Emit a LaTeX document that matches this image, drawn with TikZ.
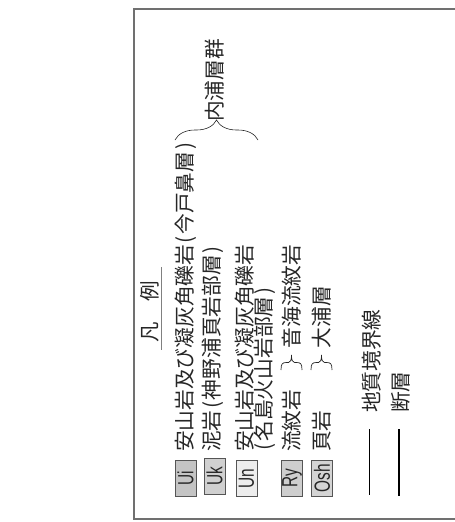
\documentclass[tikz,border=0pt]{standalone}
\usepackage{fontspec}
\usepackage{graphicx}
\newfontfamily\jp{Noto Sans CJK JP}
\setsansfont{Liberation Sans}
\usetikzlibrary{decorations.pathreplacing}
\newcommand\lpar{\makebox[0.5em]{(}}
\newcommand\rpar{\makebox[0.5em]{)}}
\definecolor{framegray}{HTML}{707070}
\definecolor{boxedge}{HTML}{555555}
\definecolor{fillUi}{HTML}{C4C4C4}
\definecolor{fillUk}{HTML}{D0D0D0}
\definecolor{fillUn}{HTML}{EDEDED}
\definecolor{fillRy}{HTML}{CECECE}
\definecolor{fillOsh}{HTML}{D4D4D4}
\definecolor{inkjp}{HTML}{262626}
\begin{document}
\begin{tikzpicture}[x=1pt,y=-1pt,
  jt/.style={rotate=90, anchor=west, inner sep=0pt, text=inkjp,
    font=\jp\fontsize{20.7}{24}\selectfont, text height=18.2pt, text depth=2.5pt},
  keybox/.style={rotate=90, draw=boxedge, line width=0.8pt, minimum width=36pt,
    minimum height=21pt, inner sep=0pt, text=black!85,
    font=\sffamily\fontsize{22}{22}\selectfont},
  brc/.style={draw=inkjp, line width=0.6pt, decorate},
  smallbrace/.style={draw=inkjp, line width=0.7pt},
  framepath/.style={draw=framegray, line width=1.2pt},
  rule/.style={draw=black!50, line width=0.7pt}]
\useasboundingbox (0,0) rectangle (455,522);
% frame
\coordinate (f1) at (456,9);
\coordinate (f2) at (134,9);
\coordinate (f3) at (134,519);
\coordinate (f4) at (456,519);
\draw[framepath] (f1) -- (f2) -- (f3) -- (f4);
% title
\node[rotate=90, inner sep=0pt, text=inkjp, font=\jp\fontsize{20.5}{24}\selectfont] (title) at (150,311.5) {凡\hspace{1em}例};
\coordinate (ul1) at (161,267);
\coordinate (ul2) at (161,350);
\draw[rule] (ul1) -- (ul2);
% key boxes
\node[keybox, fill=fillUi] (bUi) at (185.5,478) {\scalebox{0.7}[1]{Ui}};
\node[keybox, fill=fillUk] (bUk) at (214.5,476.5) {\scalebox{0.7}[1]{Uk}};
\node[keybox, fill=fillUn] (bUn) at (246.5,478.5) {\scalebox{0.7}[1]{Un}};
\node[keybox, fill=fillRy] (bRy) at (292,478) {\scalebox{0.7}[1]{Ry}};
\node[keybox, fill=fillOsh] (bOsh) at (322,478) {\scalebox{0.7}[1]{Osh}};
% texts
\node[jt] (t1) at (184.5,452) {安山岩及び凝灰角礫岩\lpar 今戸鼻層\rpar};
\node[jt] (t2) at (212,452) {泥岩\lpar 神野浦頁岩部層\rpar};
\node[jt] (t3) at (245,452) {安山岩及び凝灰角礫岩};
\node[jt] (t4) at (264,452) {\lpar 名島火山岩部層\rpar};
\node[jt] (t5) at (292,452) {流紋岩};
\node[jt] (t5b) at (292,348.5) {音海流紋岩};
\node[jt] (t6) at (322,452) {頁岩};
\node[jt] (t6b) at (322,348.5) {大浦層};
\node[jt] (grp) at (215,122) {内浦層群};
\node[jt] (g1) at (372,413) {地質境界線};
\node[jt] (g2) at (401,413) {断層};
% large brace
\coordinate (bb1) at (175,140);
\coordinate (bb2) at (258,140);
\draw[brc, decoration={brace, amplitude=20pt}] (bb1) -- (bb2);
% small braces (drawn shapes)
\foreach \cx in {291.5,321.5}{
  \draw[smallbrace] (\cx-10.5,370) .. controls (\cx-10.5,363.5) and (\cx-9,362.5) .. (\cx-5,362.5)
     -- (\cx-3,362.5) .. controls (\cx-1,362.5) and (\cx,360) .. (\cx,355)
     .. controls (\cx,360) and (\cx+1,362.5) .. (\cx+3,362.5)
     -- (\cx+5,362.5) .. controls (\cx+9,362.5) and (\cx+10.5,363.5) .. (\cx+10.5,370);
}
% line symbols
\coordinate (la1) at (369.5,429);
\coordinate (la2) at (369.5,495);
\draw[draw=black, line width=0.9pt] (la1) -- (la2);
\coordinate (lb1) at (399,429);
\coordinate (lb2) at (399,496);
\draw[draw=black, line width=2.4pt] (lb1) -- (lb2);
\end{tikzpicture}
\end{document}
